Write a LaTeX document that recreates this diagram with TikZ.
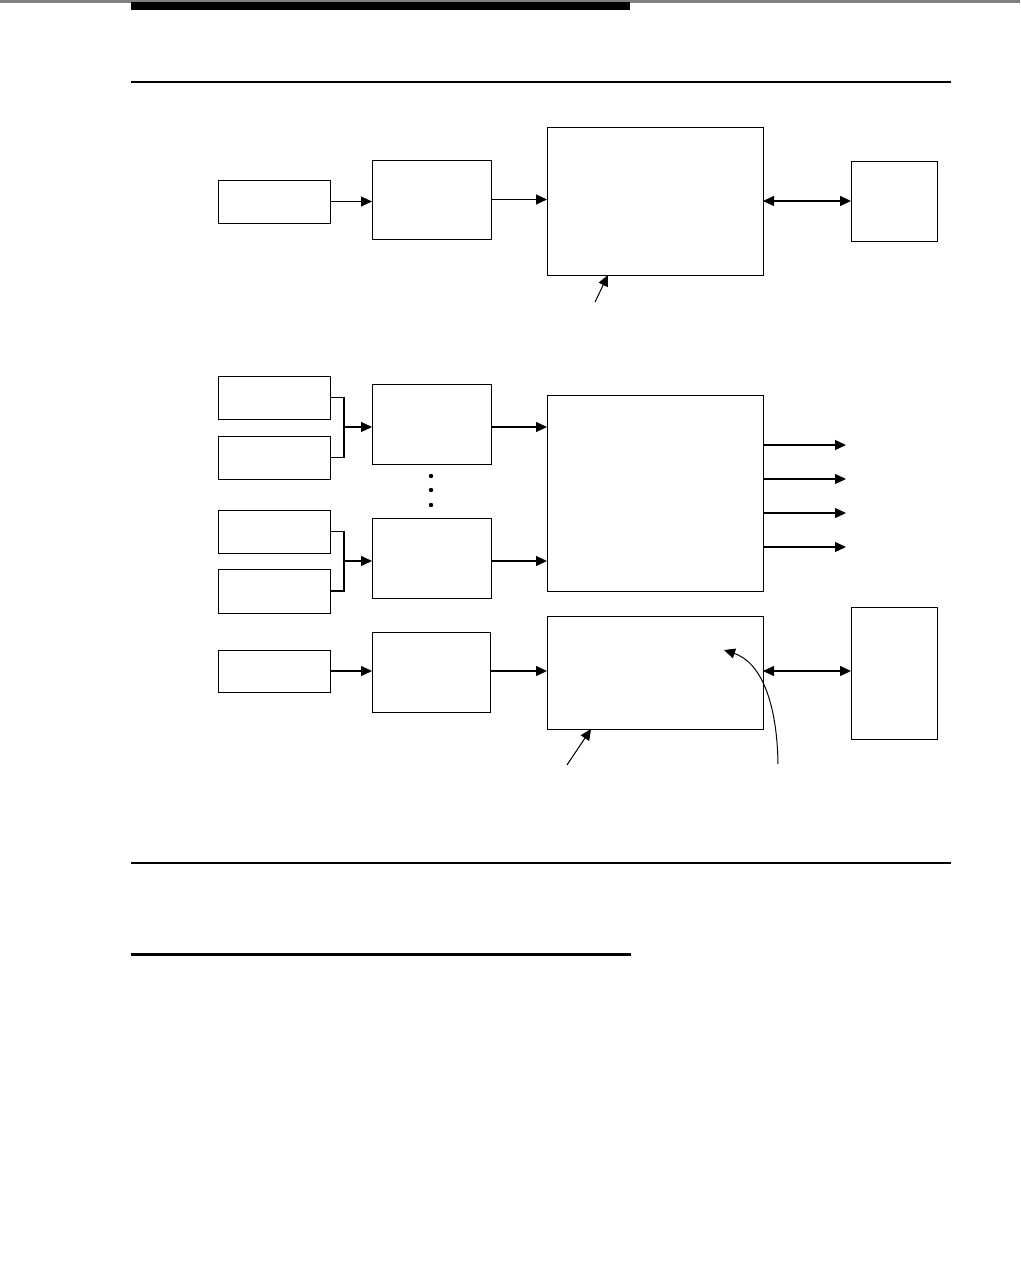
\documentclass[tikz,border=0pt]{standalone}
\usetikzlibrary{arrows.meta}
\begin{document}
\begin{tikzpicture}[x=1pt,y=-1pt,
  box/.style={draw=black,line width=0.9pt,inner sep=0pt,outer sep=0pt,anchor=north west,fill=white},
  arr/.style={line width=1.1pt,-{Triangle[length=11pt,width=10pt]}},
  darr/.style={line width=1.1pt,{Triangle[length=11pt,width=10pt]}-{Triangle[length=11pt,width=10pt]}},
  lnk/.style={line width=1.1pt},
  rule/.style={line cap=butt}]
\useasboundingbox (0,0) rectangle (1020,1277);
% page rules
\draw[rule,gray,line width=2.5pt] (0,1.3) -- (1020,1.3);
\fill[black] (131,1.5) rectangle (630,10);
\draw[rule,line width=2pt] (131,82) -- (951,82);
\draw[rule,line width=1.3pt] (131,863) -- (951,863);
\draw[rule,line width=3pt] (131,954.5) -- (631,954.5);
% top diagram
\node[box,minimum width=112pt,minimum height=43pt] (a1) at (218,180) {};
\node[box,minimum width=119pt,minimum height=79pt] (a2) at (372,160) {};
\node[box,minimum width=216pt,minimum height=148pt] (a3) at (547,127) {};
\node[box,minimum width=86pt,minimum height=80pt] (a4) at (851,161) {};
\draw[arr] (a1.east) -- (a1.east -| a2.west);
\draw[arr] (a2.east) -- (a2.east -| a3.west);
\draw[darr] (a4.west -| a3.east) -- (a4.west);
\coordinate (pa) at (595,302);
\coordinate (pat) at (608,275);
\draw[arr,line width=1pt] (pa) -- (pat);
% middle diagram
\node[box,minimum width=112pt,minimum height=43pt] (b1) at (218,376) {};
\node[box,minimum width=112pt,minimum height=43pt] (b2) at (218,436) {};
\node[box,minimum width=112pt,minimum height=43pt] (b3) at (218,510) {};
\node[box,minimum width=112pt,minimum height=44pt] (b4) at (218,569) {};
\node[box,minimum width=119pt,minimum height=80pt] (c1) at (372,384) {};
\node[box,minimum width=119pt,minimum height=80pt] (c2) at (372,518) {};
\node[box,minimum width=216pt,minimum height=196pt] (d) at (547,395) {};
\draw[lnk] (b1.east) -- ++(14,0) |- (b2.east);
\coordinate (j1) at (344,427);
\draw[arr] (j1) -- (j1 -| c1.west);
\draw[lnk] (b3.east) -- ++(14,0) |- (b4.east);
\coordinate (j2) at (344,561);
\draw[arr] (j2) -- (j2 -| c2.west);
\coordinate (k1) at (491,427);
\coordinate (k2) at (491,561);
\draw[arr] (k1) -- (k1 -| d.west);
\draw[arr] (k2) -- (k2 -| d.west);
\foreach \yy in {476,490,505} \fill (431,\yy) circle (2.2pt);
\foreach \n/\yy in {1/445,2/479,3/513,4/547} {
  \coordinate (o\n) at (846,\yy);
  \draw[arr] (o\n -| d.east) -- (o\n);
}
% bottom diagram
\node[box,minimum width=112pt,minimum height=42pt] (b5) at (218,650) {};
\node[box,minimum width=118pt,minimum height=80pt] (c3) at (372,632) {};
\node[box,minimum width=216pt,minimum height=113pt] (e) at (547,616) {};
\node[box,minimum width=86pt,minimum height=132pt] (f) at (851,607) {};
\coordinate (m1) at (330,671);
\draw[arr] (m1) -- (m1 -| c3.west);
\coordinate (m2) at (490,671);
\draw[arr] (m2) -- (m2 -| e.west);
\coordinate (m3) at (763,671);
\draw[darr] (m3) -- (m3 -| f.west);
\coordinate (pb) at (567,765);
\coordinate (pbt) at (591,729);
\draw[arr,line width=1pt] (pb) -- (pbt);
\coordinate (pc) at (778,764);
\coordinate (pct) at (724,650);
\draw[arr,line width=1pt] (pc) .. controls (777,700) and (760,662) .. (pct);
\end{tikzpicture}
\end{document}
